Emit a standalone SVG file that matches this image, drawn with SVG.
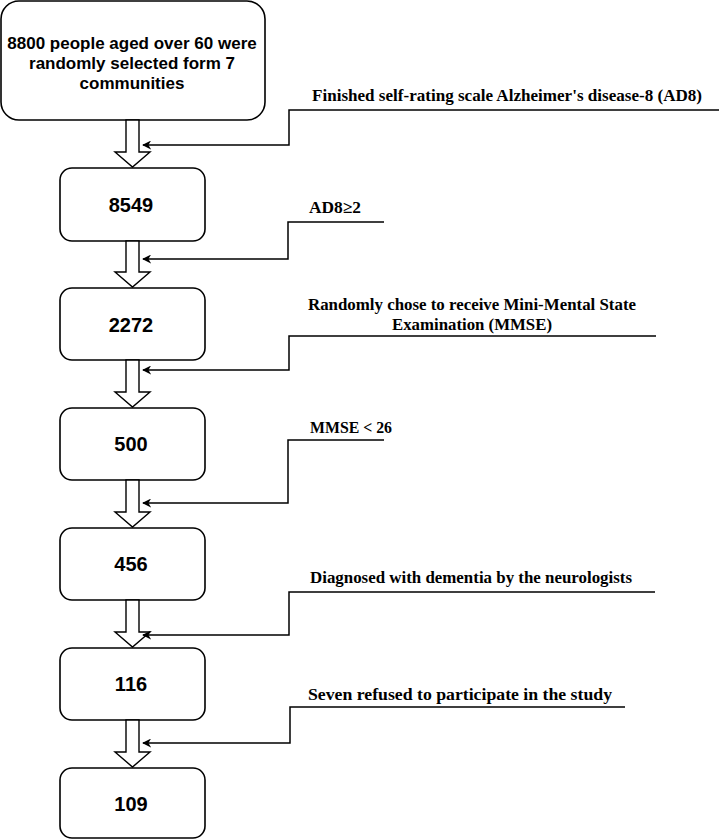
<svg xmlns="http://www.w3.org/2000/svg" width="720" height="840" viewBox="0 0 720 840">
<style>
.box{fill:#fff;stroke:#000;stroke-width:1.6}
.blk{fill:#fff;stroke:#000;stroke-width:1.4}
.ln{fill:none;stroke:#000;stroke-width:1.5}
.num{font-family:"Liberation Sans",Arial,sans-serif;font-weight:bold;font-size:20px;text-anchor:middle;fill:#000}
.top{font-family:"Liberation Sans",Arial,sans-serif;font-weight:bold;font-size:17px;text-anchor:middle;fill:#000}
.lab{font-family:"Liberation Serif","Times New Roman",serif;font-weight:bold;font-size:17px;fill:#000}
</style>
<defs>
<marker id="ah" viewBox="0 0 10 10" refX="9" refY="5" markerWidth="9" markerHeight="9" markerUnits="userSpaceOnUse" orient="auto">
<path d="M0,0 L10,5 L0,10 L3,5 Z" fill="#000"/>
</marker>
</defs>
<g id="n1"><rect class="box" x="1" y="1" width="264" height="119" rx="18"/>
<text class="top" x="132" y="49">8800 people aged over 60 were</text>
<text class="top" x="132" y="69">randomly selected form 7</text>
<text class="top" x="132" y="89">communities</text></g>
<g id="n2"><rect class="box" x="60" y="168" width="145" height="73" rx="12"/><text class="num" x="131" y="212">8549</text></g>
<g id="n3"><rect class="box" x="60" y="288" width="145" height="72" rx="12"/><text class="num" x="131" y="332">2272</text></g>
<g id="n4"><rect class="box" x="60" y="408" width="145" height="72" rx="12"/><text class="num" x="131" y="451">500</text></g>
<g id="n5"><rect class="box" x="60" y="528" width="145" height="72" rx="12"/><text class="num" x="131" y="571">456</text></g>
<g id="n6"><rect class="box" x="60" y="648" width="145" height="72" rx="12"/><text class="num" x="131" y="691">116</text></g>
<g id="n7"><rect class="box" x="60" y="768" width="145" height="70" rx="12"/><text class="num" x="131" y="811">109</text></g>
<g id="connectors">
<polygon class="blk" points="126,120 139,120 139,152 150,152 132.5,167 115,152 126,152"/>
<polygon class="blk" points="126,241 139,241 139,272 150,272 132.5,287 115,272 126,272"/>
<polygon class="blk" points="126,360 139,360 139,392 150,392 132.5,407 115,392 126,392"/>
<polygon class="blk" points="126,480 139,480 139,512 150,512 132.5,527 115,512 126,512"/>
<polygon class="blk" points="126,600 139,600 139,632 150,632 132.5,647 115,632 126,632"/>
<polygon class="blk" points="126,720 139,720 139,752 150,752 132.5,767 115,752 126,752"/>
<path class="ln" d="M719,110 H289 V145 H143" marker-end="url(#ah)"/>
<path class="ln" d="M384,222 H288 V259 H143" marker-end="url(#ah)"/>
<path class="ln" d="M656,336 H289 V370 H143" marker-end="url(#ah)"/>
<path class="ln" d="M384,440 H288 V503 H143" marker-end="url(#ah)"/>
<path class="ln" d="M655,592 H289 V635 H143" marker-end="url(#ah)"/>
<path class="ln" d="M625,707 H290 V743 H143" marker-end="url(#ah)"/>
</g>
<g id="labels">
<text class="lab" x="312" y="101" textLength="390" lengthAdjust="spacingAndGlyphs">Finished self-rating scale  Alzheimer's disease-8 (AD8)</text>
<text class="lab" x="309" y="213" textLength="52" lengthAdjust="spacingAndGlyphs">AD8≥2</text>
<text class="lab" x="308" y="310" textLength="328" lengthAdjust="spacingAndGlyphs">Randomly chose to receive Mini-Mental State</text>
<text class="lab" x="392" y="330" textLength="160" lengthAdjust="spacingAndGlyphs">Examination (MMSE)</text>
<text class="lab" x="310" y="433" textLength="82" lengthAdjust="spacingAndGlyphs">MMSE &lt; 26</text>
<text class="lab" x="310" y="583" textLength="322" lengthAdjust="spacingAndGlyphs">Diagnosed with dementia by the neurologists</text>
<text class="lab" x="308" y="700" textLength="304" lengthAdjust="spacingAndGlyphs">Seven refused to participate in the study</text>
</g>
</svg>
